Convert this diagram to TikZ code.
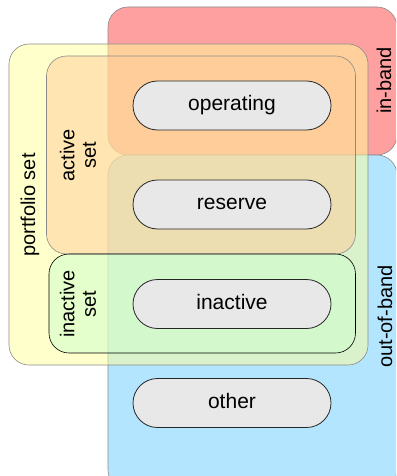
\documentclass[tikz,border=0pt]{standalone}
\usepackage{fontspec}
\setmainfont{Liberation Sans}
\usetikzlibrary{shapes.misc}

\definecolor{inbandfill}{HTML}{FFA0A0}
\definecolor{outbandfill}{HTML}{B3E5FF}
\definecolor{portfoliofill}{HTML}{FFFF99}
\definecolor{activefill}{HTML}{FFCC99}
\definecolor{inactivefill}{HTML}{CCFFCC}
\definecolor{pillfill}{HTML}{E8E8E8}
\definecolor{edgegray}{HTML}{8A8A8A}

\begin{document}
\begin{tikzpicture}[x=1pt, y=-1pt,
  region/.style={draw=edgegray, line width=0.6pt, rounded corners=20pt},
  tinted/.style={region, fill opacity=0.5},
  pill/.style={rounded rectangle, draw=black!85, line width=0.8pt, fill=pillfill,
    minimum width=198pt, minimum height=49pt, inner sep=0pt,
    font=\fontsize{21}{24}\selectfont, text height=15pt, text depth=4.4pt},
  vlabel/.style={rotate=90, inner sep=0pt, font=\fontsize{20}{21.5}\selectfont}]
\useasboundingbox (0,0) rectangle (396,476);
\clip (0,0) rectangle (396,476);

% band regions
\draw[region, fill=inbandfill] (108,7) rectangle (397,155);
\draw[region, fill=outbandfill] (108,155) rectangle (397,490);

% nested sets, translucent
\draw[tinted, fill=portfoliofill] (9,44) rectangle (368,365);
\draw[tinted, fill=activefill] (46.5,56) rectangle (355.5,254);
\draw[tinted, fill=inactivefill, draw=black] (49,254) rectangle (355.5,353);

% states
\node[pill] (operating) at (232,105.5) {operating};
\node[pill] (reserve)   at (232,204.5) {reserve};
\node[pill] (inactive)  at (232,304)   {inactive};
\node[pill] (other)     at (232,403)   {other};

% region labels
\node[vlabel, anchor=base] (inbandlbl)    at (391,80.5) {in-band};
\node[vlabel, anchor=base] (outbandlbl)   at (392,316.5) {out-of-band};
\node[vlabel, anchor=base] (portfoliolbl) at (35,205) {portfolio set};
\node[vlabel, align=center] (activelbl)   at (78,155.5) {active\\set};
\node[vlabel, align=center] (inactivelbl) at (78,304) {inactive\\set};
\end{tikzpicture}
\end{document}
